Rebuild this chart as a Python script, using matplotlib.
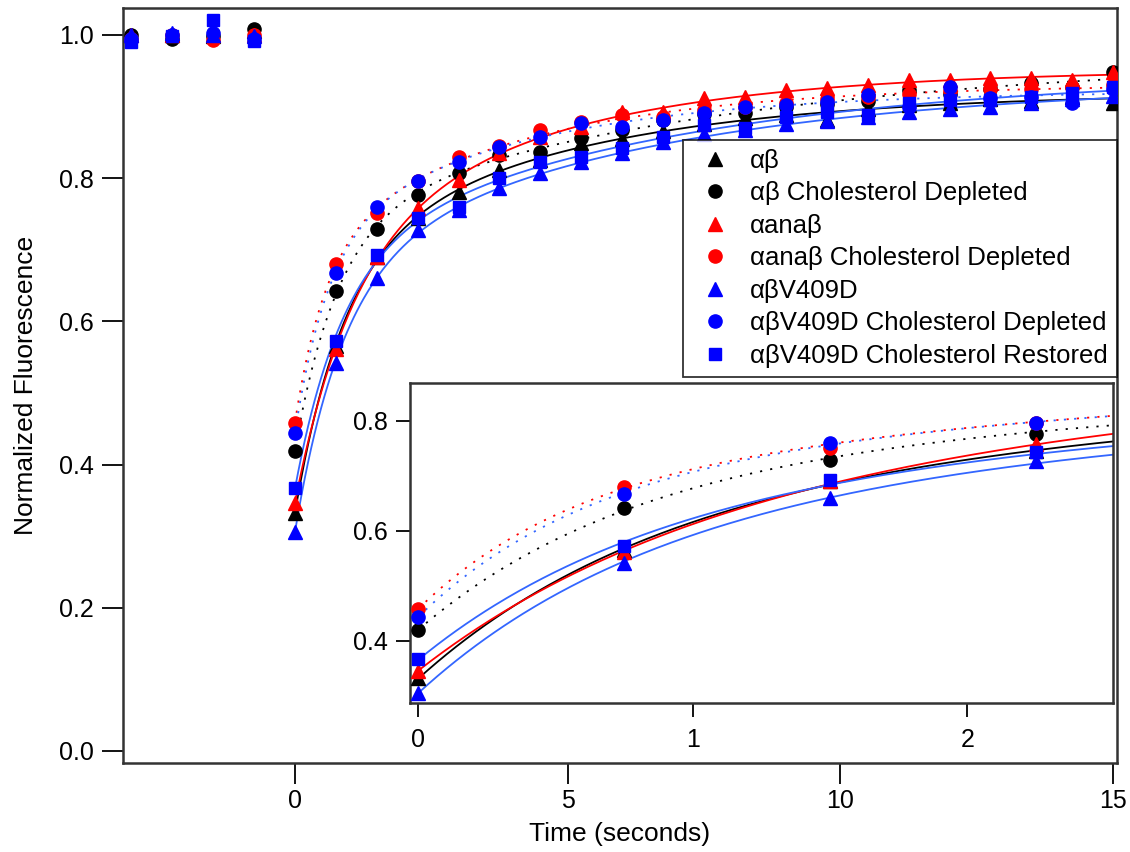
import numpy as np
import matplotlib
matplotlib.use("Agg")
import matplotlib.pyplot as plt
from matplotlib.lines import Line2D

plt.rcParams['font.family'] = ['Liberation Sans', 'DejaVu Sans']

# ---------------- data ----------------
t_pre = [-3.0, -2.25, -1.5, -0.75]
t_post = [0, 0.75, 1.5, 2.25, 3.0, 3.75, 4.5, 5.25, 6.0, 6.75, 7.5, 8.25,
          9.0, 9.75, 10.5, 11.25, 12.0, 12.75, 13.5, 14.25, 15.0]

labels = ["αβ", "αβ Cholesterol Depleted", "αanaβ", "αanaβ Cholesterol Depleted",
          "αβV409D", "αβV409D Cholesterol Depleted", "αβV409D Cholesterol Restored"]

ab_pre = [1.000, 1.000, 0.998, 1.005]
ab_cd_pre = [1.000, 0.995, 0.998, 1.008]
ana_pre = [1.000, 1.000, 1.000, 1.000]
ana_cd_pre = [0.995, 1.000, 0.993, 1.000]
v409_pre = [1.000, 1.003, 1.000, 0.998]
v409_cd_pre = [0.995, 1.000, 1.003, 0.995]
v409_rest_pre = [0.990, 0.998, 1.021, 0.992]

ab = [0.332, 0.565, 0.690, 0.745, 0.781, 0.811, 0.825, 0.849, 0.855, 0.866, 0.875,
      0.884, 0.888, 0.881, 0.897, 0.902, 0.905, 0.910, 0.908, 0.913, 0.905]
ab_cd = [0.419, 0.642, 0.729, 0.777, 0.807, 0.832, 0.837, 0.856, 0.868, 0.881, 0.889,
         0.891, 0.900, 0.903, 0.908, 0.923, 0.918, 0.925, 0.933, 0.928, 0.948]
ana = [0.346, 0.562, 0.690, 0.758, 0.797, 0.835, 0.858, 0.872, 0.892, 0.892, 0.912,
       0.913, 0.923, 0.926, 0.930, 0.937, 0.937, 0.940, 0.940, 0.937, 0.948]
ana_cd = [0.458, 0.680, 0.751, 0.796, 0.830, 0.845, 0.867, 0.878, 0.888, 0.885, 0.895,
          0.900, 0.905, 0.911, 0.913, 0.918, 0.922, 0.925, 0.925, 0.928, 0.930]
v409 = [0.306, 0.542, 0.660, 0.728, 0.755, 0.786, 0.807, 0.823, 0.835, 0.850, 0.862,
        0.868, 0.875, 0.880, 0.885, 0.893, 0.897, 0.900, 0.905, 0.910, 0.915]
v409_cd = [0.444, 0.667, 0.760, 0.796, 0.823, 0.844, 0.858, 0.877, 0.872, 0.881, 0.891,
           0.899, 0.902, 0.906, 0.916, 0.900, 0.927, 0.912, 0.913, 0.905, 0.925]
v409_rest = [0.367, 0.573, 0.693, 0.744, 0.760, 0.800, 0.823, 0.830, 0.842, 0.858, 0.874,
             0.870, 0.886, 0.892, 0.888, 0.905, 0.909, 0.909, 0.913, 0.919, 0.927]

series_pre = [ab_pre, ab_cd_pre, ana_pre, ana_cd_pre, v409_pre, v409_cd_pre, v409_rest_pre]
series_post = [ab, ab_cd, ana, ana_cd, v409, v409_cd, v409_rest]

# ---------------- styles ----------------
marker_colors = ["black", "black", "#ff0000", "#ff0000", "#0000ff", "#0000ff", "#0000ff"]
line_colors = ["black", "black", "#ff0000", "#ff0000", "#3366ff", "#3366ff", "#3366ff"]
markers = ["^", "o", "^", "o", "^", "o", "s"]
dotted = [False, True, False, True, False, True, False]


def fit_biexp(t, y):
    t = np.asarray(t, float)
    y = np.asarray(y, float)
    ks = np.geomspace(0.03, 12, 70)
    best = None
    for i, k1 in enumerate(ks):
        for k2 in ks[i + 1:]:
            A = np.column_stack([np.ones_like(t), np.exp(-k1 * t), np.exp(-k2 * t)])
            coef, *_ = np.linalg.lstsq(A, y, rcond=None)
            r = np.sum((A @ coef - y) ** 2)
            if best is None or r < best[0]:
                best = (r, k1, k2, coef)
    _, k1, k2, c = best
    return lambda tt: c[0] + c[1] * np.exp(-k1 * tt) + c[2] * np.exp(-k2 * tt)


fits = [fit_biexp(t_post, s) for s in series_post]

W, H = 1130, 852
fig = plt.figure(figsize=(W / 100, H / 100), dpi=100)


def fig_rect(l, r, top, bot):
    return [l / W, (H - bot) / H, (r - l) / W, (bot - top) / H]


ax = fig.add_axes(fig_rect(123, 1117, 8, 763))
ins = fig.add_axes(fig_rect(410, 1113, 383, 703))
ins.set_facecolor("white")

tt_main = np.linspace(0, 15, 500)
tt_ins = np.linspace(0, 2.6, 300)


def msize(m):
    return 9.5 if m != "s" else 9


for axx, tt in ((ax, tt_main), (ins, tt_ins)):
    for i in range(7):
        ls = (0, (1.2, 4.5)) if dotted[i] else "-"
        axx.plot(tt, fits[i](tt), color=line_colors[i], lw=1.3, ls=ls, zorder=2)
    for i in range(7):
        axx.plot(t_post, series_post[i], ls="none", marker=markers[i],
                 color=marker_colors[i], ms=msize(markers[i]),
                 mec=marker_colors[i], zorder=3)

for i in range(7):
    ax.plot(t_pre, series_pre[i], ls="none", marker=markers[i],
            color=marker_colors[i], ms=msize(markers[i]), zorder=3)

spine_color = "#333333"
# main axes
ax.set_xlim(-3.15, 15.07)
ax.set_ylim(-0.0168, 1.0377)
ax.set_xticks([0, 5, 10, 15])
ax.set_yticks([0.0, 0.2, 0.4, 0.6, 0.8, 1.0])
ax.set_yticklabels(["0.0", "0.2", "0.4", "0.6", "0.8", "1.0"])
ax.tick_params(direction="out", length=15, width=1.3, labelsize=18, pad=6, colors="black")
ax.tick_params(axis="x", pad=4)
for s in ax.spines.values():
    s.set_color(spine_color)
    s.set_linewidth(1.8)
ax.set_xlabel("Time (seconds)", fontsize=19, labelpad=6)
ax.set_ylabel("Normalized Fluorescence", fontsize=19, labelpad=15)

# inset
ins.set_xlim(-0.03, 2.53)
ins.set_ylim(0.287, 0.869)
ins.set_xticks([0, 1, 2])
ins.set_yticks([0.4, 0.6, 0.8])
ins.set_yticklabels(["0.4", "0.6", "0.8"])
ins.tick_params(direction="out", length=10, width=1.3, labelsize=18, pad=6)
ins.tick_params(axis="x", pad=8)
for s in ins.spines.values():
    s.set_color(spine_color)
    s.set_linewidth(1.8)

# legend
handles = [Line2D([], [], ls="none", marker=markers[i], color=marker_colors[i],
                  ms=msize(markers[i])) for i in range(7)]
leg = fig.legend(handles, labels, loc="upper right",
                 bbox_to_anchor=(1117 / W, (H - 140) / H), fontsize=18.5,
                 frameon=True, fancybox=False, edgecolor="black",
                 handlelength=1.8, handletextpad=0.47, labelspacing=0.33,
                 borderpad=0.35, borderaxespad=0)
leg.get_frame().set_linewidth(1.3)
leg.set_zorder(10)

fig.savefig("out.png", dpi=100)
